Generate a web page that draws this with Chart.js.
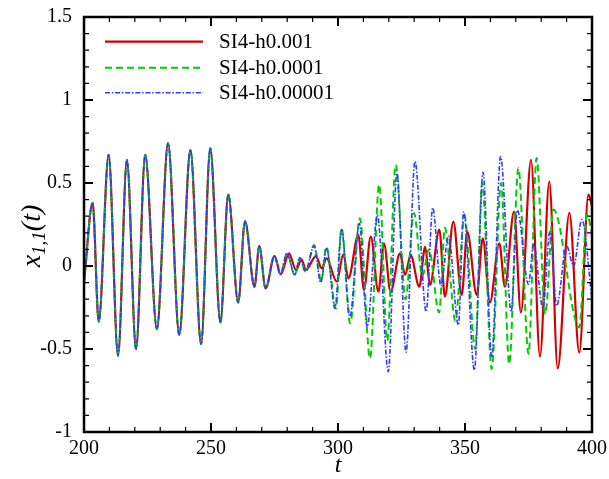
<!DOCTYPE html>
<html>
<head>
<meta charset="utf-8">
<script src="https://cdn.jsdelivr.net/npm/chart.js@4.4.0/dist/chart.umd.min.js"></script>
<style>
  html, body { margin: 0; padding: 0; background: #fff; }
</style>
</head>
<body>
<canvas id="chart" width="609" height="479"></canvas>
<script>
// -------------------------------
// Data (extrema of each trace)
// -------------------------------

// shared part, all three runs overlap here
const commonT = [200, 203.4, 205.8, 209.7, 213.4, 216.9, 220.5, 224.1, 228.7, 233.1, 237.5,
  241.9, 246.1, 249.7, 253.7, 256.8, 260.7, 263.4, 267.1, 269.0, 271.5];
const commonX = [-0.1, 0.38, -0.335, 0.67, -0.54, 0.64, -0.50, 0.67, -0.38, 0.74, -0.415,
  0.70, -0.47, 0.71, -0.34, 0.43, -0.22, 0.27, -0.125, 0.12, -0.135];

// SI4-h0.001
const redT = [275.0, 277.5, 280.7, 283.5, 285.6, 287.4, 291.3, 293.6, 295.5, 299.5, 302.1,
  304.1, 308.0, 310.2, 312.9, 315.9, 318.1, 320.7, 324.4, 326.4, 328.6, 332.0, 334.3, 336.2,
  339.9, 342.1, 345.4, 348.7, 350.9, 354.6, 357.0, 359.8, 363.5, 365.7, 369.3, 372.0, 376.0,
  379.5, 383.2, 386.5, 391.1, 395.0, 398.6, 400];
const redX = [0.06, -0.05, 0.076, -0.025, 0.04, -0.024, 0.06, -0.014, 0.046, -0.094, 0.07,
  -0.074, 0.187, -0.145, 0.177, -0.155, 0.137, -0.155, 0.076, -0.054, 0.066, -0.125, 0.116, -0.114,
  0.22, -0.185, 0.267, -0.175, 0.207, -0.175, 0.167, -0.22, 0.137, -0.125, 0.327, -0.28, 0.64,
  -0.546, 0.508, -0.617, 0.32, -0.522, 0.43, 0.36];

// SI4-h0.0001
const greenT = [275.0, 277.3, 279.9, 283.0, 285.0, 287.2, 290.6, 293.4, 295.4, 299.2, 301.4,
  304.8, 308.6, 312.6, 316.2, 319.4, 322.7, 326.6, 329.9, 333.2, 335.8, 339.8, 342.1, 346.2,
  349.8, 354.0, 356.8, 360.5, 364.2, 367.4, 371.0, 375.0, 378.2, 381.6, 384.8, 395.0, 398.0, 400];
const greenX = [0.06, -0.05, 0.076, -0.054, 0.05, -0.034, 0.127, -0.09, 0.116, -0.255, 0.227,
  -0.345, 0.287, -0.556, 0.49, -0.45, 0.61, -0.2, 0.32, -0.06, 0.1, -0.28, 0.23, -0.33,
  0.3, -0.5, 0.5, -0.62, 0.5, -0.59, 0.59, -0.53, 0.65, -0.29, 0.34, -0.37, 0.31, 0.2];

// SI4-h0.00001
const blueT = [275.0, 277.3, 279.9, 283.0, 285.0, 287.2, 290.6, 293.2, 295.5, 298.8, 301.4,
  304.7, 308.4, 311.5, 315.5, 319.8, 323.2, 326.8, 330.3, 334.7, 337.3, 340.5, 343.5, 347.4,
  349.5, 353.7, 357.1, 360.5, 364.0, 368.2, 370.6, 375.0, 377.0, 380.7, 383.4, 386.1, 390.0,
  392.8, 396.0, 400];
const blueX = [0.06, -0.05, 0.076, -0.054, 0.05, -0.034, 0.12, -0.1, 0.106, -0.255, 0.22,
  -0.305, 0.257, -0.366, 0.307, -0.636, 0.56, -0.52, 0.63, -0.275, 0.35, -0.12, 0.18, -0.355,
  0.327, -0.627, 0.565, -0.55, 0.66, -0.275, 0.337, -0.11, 0.13, -0.255, 0.207, -0.24, 0.12,
  0.0, 0.28, -0.2];

const xTicks = [200, 250, 300, 350, 400];
const yTicks = [-1, -0.5, 0, 0.5, 1, 1.5];

const FONT = "'Liberation Serif', 'DejaVu Serif', serif";

// -------------------------------
// Helpers
// -------------------------------
function toPoints(ts, xs) {
  return ts.map((t, i) => ({ x: t, y: xs[i] }));
}

function series(ts, xs) {
  return toPoints(commonT, commonX).concat(toPoints(ts, xs));
}

// frame, inward ticks, legend and axis titles
const decorPlugin = {
  id: "decor",
  afterDraw(chart) {
    const { ctx, chartArea: a, scales } = chart;
    ctx.save();
    ctx.strokeStyle = "#000";

    // x ticks (bottom + top)
    for (let v = 200; v <= 400; v += 10) {
      const px = scales.x.getPixelForValue(v);
      const major = v % 50 === 0;
      const len = major ? 9 : 5;
      ctx.lineWidth = major ? 2 : 1.2;
      ctx.beginPath();
      ctx.moveTo(px, a.bottom); ctx.lineTo(px, a.bottom - len);
      ctx.moveTo(px, a.top); ctx.lineTo(px, a.top + len);
      ctx.stroke();
    }
    // y ticks (left + right)
    for (let i = -10; i <= 15; i++) {
      const py = scales.y.getPixelForValue(i / 10);
      const major = i % 5 === 0;
      const len = major ? 9 : 5;
      ctx.lineWidth = major ? 2 : 1.2;
      ctx.beginPath();
      ctx.moveTo(a.left, py); ctx.lineTo(a.left + len, py);
      ctx.moveTo(a.right, py); ctx.lineTo(a.right - len, py);
      ctx.stroke();
    }

    // frame
    ctx.lineWidth = 2.5;
    ctx.strokeRect(a.left, a.top, a.right - a.left, a.bottom - a.top);

    // legend
    const rows = [41.7, 67.7, 92.7];
    chart.data.datasets.forEach((ds, i) => {
      const y = rows[i];
      ctx.strokeStyle = ds.borderColor;
      ctx.lineWidth = ds.borderWidth;
      ctx.setLineDash(ds.borderDash || []);
      ctx.beginPath();
      ctx.moveTo(105, y); ctx.lineTo(203, y);
      ctx.stroke();
      ctx.setLineDash([]);
      ctx.fillStyle = "#000";
      ctx.font = `21px ${FONT}`;
      ctx.textBaseline = "middle";
      ctx.textAlign = "left";
      ctx.fillText(ds.label, 219, y + 1);
    });

    // x title
    ctx.fillStyle = "#000";
    ctx.font = `italic 24px ${FONT}`;
    ctx.textAlign = "center";
    ctx.textBaseline = "middle";
    ctx.fillText("t", (a.left + a.right) / 2, 466);

    // y title: x_{1,1}(t)
    const big = `italic 28px ${FONT}`;
    const small = `italic 19px ${FONT}`;
    ctx.font = big; const w1 = ctx.measureText("x").width;
    ctx.font = small; const w2 = ctx.measureText("1,1").width;
    ctx.font = big; const w3 = ctx.measureText("(t)").width;
    const total = w1 + w2 + w3;
    ctx.translate(40, 236);
    ctx.rotate(-Math.PI / 2);
    ctx.textAlign = "left";
    ctx.textBaseline = "alphabetic";
    let x0 = -total / 2;
    ctx.font = big; ctx.fillText("x", x0, 0); x0 += w1;
    ctx.font = small; ctx.fillText("1,1", x0, 5); x0 += w2;
    ctx.font = big; ctx.fillText("(t)", x0, 0);

    ctx.restore();
  },
};

// -------------------------------
// Chart
// -------------------------------
new Chart(document.getElementById("chart"), {
  type: "line",
  data: {
    datasets: [
      {
        label: "SI4-h0.001",
        data: series(redT, redX),
        borderColor: "#d20000",
        borderWidth: 2.2,
        order: 2,
      },
      {
        label: "SI4-h0.0001",
        data: series(greenT, greenX),
        borderColor: "#00cc00",
        borderWidth: 2,
        borderDash: [7, 4],
        order: 1,
      },
      {
        label: "SI4-h0.00001",
        data: series(blueT, blueX),
        borderColor: "#2d3cff",
        borderWidth: 1.6,
        borderDash: [5, 1.8, 1.5, 1.8],
        order: 0,
      },
    ],
  },
  options: {
    responsive: false,
    animation: false,
    layout: { padding: { top: 17, right: 17, left: 0, bottom: 0 } },
    elements: {
      point: { radius: 0 },
      line: { cubicInterpolationMode: "monotone", fill: false },
    },
    plugins: { legend: { display: false }, tooltip: { enabled: false } },
    scales: {
      x: {
        type: "linear",
        min: 200,
        max: 400,
        afterBuildTicks: (s) => { s.ticks = xTicks.map((v) => ({ value: v })); },
        afterFit: (s) => { s.height = 47; },
        grid: { display: false },
        border: { display: false },
        ticks: { color: "#000", padding: -3, maxRotation: 0, font: { family: FONT, size: 20 } },
      },
      y: {
        type: "linear",
        min: -1,
        max: 1.5,
        afterBuildTicks: (s) => { s.ticks = yTicks.map((v) => ({ value: v })); },
        afterFit: (s) => { s.width = 84; },
        grid: { display: false },
        border: { display: false },
        ticks: {
          color: "#000",
          padding: 4,
          font: { family: FONT, size: 20 },
          callback: (v) => String(Math.round(v * 10) / 10),
        },
      },
    },
  },
  plugins: [decorPlugin],
});
</script>
</body>
</html>
